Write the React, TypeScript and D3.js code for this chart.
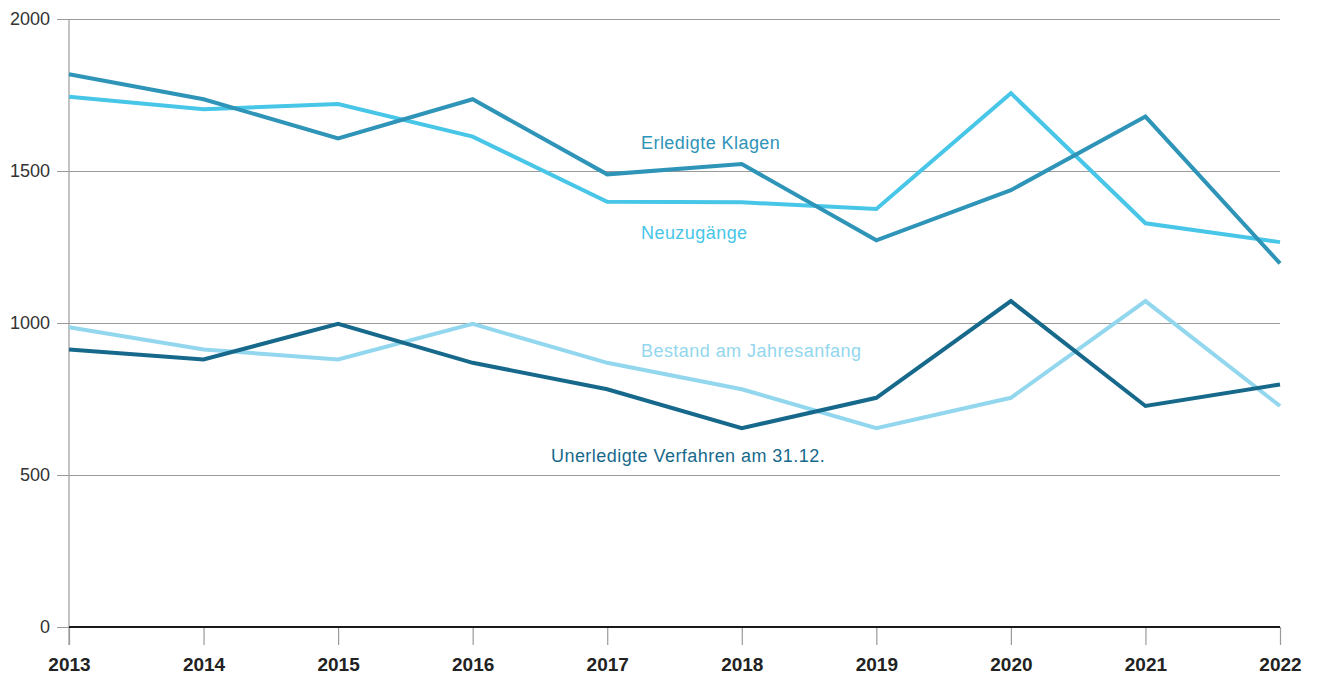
import React, { useRef, useEffect } from 'react';
import { select, scaleLinear, scalePoint, line, axisLeft, axisBottom } from 'd3';

const years = ['2013', '2014', '2015', '2016', '2017', '2018', '2019', '2020', '2021', '2022'];
const erledigteKlagen = [1818, 1736, 1607, 1736, 1489, 1523, 1272, 1437, 1679, 1196];
const neuzugaenge = [1744, 1703, 1720, 1613, 1399, 1397, 1375, 1756, 1328, 1266];
const bestandJahresanfang = [986, 913, 880, 997, 869, 782, 654, 754, 1072, 727];
const unerledigteVerfahren = [913, 880, 997, 869, 782, 654, 754, 1072, 727, 798];
const yTicks = [0, 500, 1000, 1500, 2000];

const series = [
  { name: 'Bestand am Jahresanfang', values: bestandJahresanfang, color: '#93d7ee', lx: 641, ly: 357 },
  { name: 'Unerledigte Verfahren am 31.12.', values: unerledigteVerfahren, color: '#17698c', lx: 551, ly: 462 },
  { name: 'Neuzugänge', values: neuzugaenge, color: '#47c6e8', lx: 641, ly: 239 },
  { name: 'Erledigte Klagen', values: erledigteKlagen, color: '#2e94b8', lx: 641, ly: 149 },
];

const W = 1317;
const H = 678;
const margin = { top: 19, right: 37, bottom: 51, left: 69 };
const font = '"Liberation Sans", Arial, sans-serif';

const App = () => {
  const svgRef = useRef<SVGSVGElement>(null);

  useEffect(() => {
    const svg = select(svgRef.current);
    svg.selectAll('*').remove();

    const x = scalePoint().domain(years).range([margin.left, W - margin.right]);
    const y = scaleLinear().domain([0, 2000]).range([H - margin.bottom, margin.top]);

    // grid + y labels
    const yAxis = axisLeft(y)
      .tickValues(yTicks)
      .tickFormat(d => String(d))
      .tickSize(-(W - margin.right - margin.left) - 12)
      .tickPadding(7);
    const gy = svg.append('g').attr('transform', `translate(${margin.left - 12},0)`).call(yAxis);
    gy.select('.domain').remove();
    gy.selectAll('.tick line').attr('stroke', '#9a9a9a').attr('stroke-width', 1.2);
    gy.selectAll('.tick text')
      .attr('fill', '#333')
      .style('font-family', font)
      .style('font-size', '18px');

    // x ticks
    const xAxis = axisBottom(x).tickSize(18).tickPadding(13);
    const gx = svg.append('g').attr('transform', `translate(0,${y(0)})`).call(xAxis);
    gx.select('.domain').remove();
    gx.selectAll('.tick line').attr('stroke', '#9a9a9a').attr('stroke-width', 1.2);
    gx.selectAll('.tick text')
      .attr('fill', '#222')
      .style('font-family', font)
      .style('font-size', '19px')
      .style('font-weight', 'bold');

    // left axis line
    svg.append('line')
      .attr('x1', margin.left).attr('x2', margin.left)
      .attr('y1', margin.top).attr('y2', y(0) + 18)
      .attr('stroke', '#9a9a9a').attr('stroke-width', 1.2);

    // baseline
    svg.append('line')
      .attr('x1', margin.left).attr('x2', W - margin.right)
      .attr('y1', y(0)).attr('y2', y(0))
      .attr('stroke', '#1a1a1a').attr('stroke-width', 2.2);

    const myLine = line<number>()
      .x((v, i) => x(years[i]) as number)
      .y(v => y(v));

    series.forEach(s => {
      svg.append('path')
        .datum(s.values)
        .attr('d', myLine)
        .attr('fill', 'none')
        .attr('stroke', s.color)
        .attr('stroke-width', 4)
        .attr('stroke-linejoin', 'miter');
      svg.append('text')
        .attr('x', s.lx)
        .attr('y', s.ly)
        .attr('fill', s.color)
        .style('font-family', font)
        .style('font-size', '18px')
        .style('letter-spacing', '0.45px')
        .text(s.name);
    });
  }, []);

  return (
    <svg
      ref={svgRef}
      width={W}
      height={H}
      style={{ position: 'absolute', left: 0, top: 0, background: '#fff' }}
    />
  );
};

export default App;
